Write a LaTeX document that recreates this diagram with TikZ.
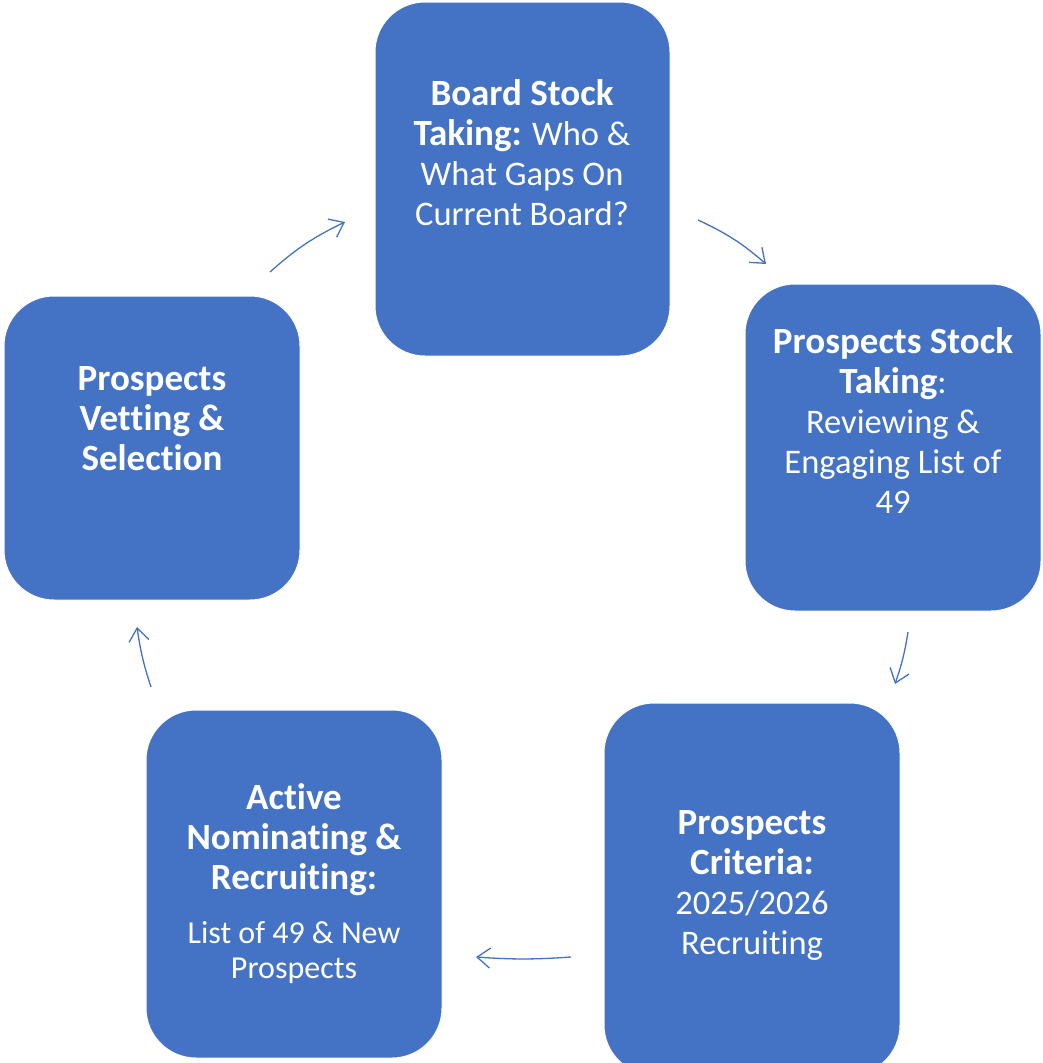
\documentclass[tikz,border=0pt]{standalone}
\usepackage{fontspec}
\setmainfont{Carlito}[Ligatures={NoCommon,NoRare,NoContextual}]
\usetikzlibrary{arrows.meta}
\definecolor{boxblue}{HTML}{4472C4}
\newcommand{\bt}[1]{{\fontsize{37}{40}\selectfont\bfseries #1}}
\newcommand{\tk}{t\kern0pt }
\tikzset{
  box/.style={draw=white, line width=1pt, fill=boxblue, rounded corners=50pt, inner sep=0pt},
  btext/.style={text=white, align=center, font=\fontsize{34.5}{40}\selectfont, inner sep=0pt},
  stext/.style={text=white, align=center, font=\fontsize{32}{35}\selectfont, inner sep=0pt},
  conn/.style={draw=boxblue, line width=1.3pt, -{Straight Barb[length=13pt,width=20pt,line width=1.3pt]}}
}
\begin{document}
\begin{tikzpicture}[x=1pt,y=-1pt]
\useasboundingbox (0,0) rectangle (1043,1063);
% boxes
\path[box] (375,2) rectangle (670,356) node[midway] (b1) {};
\path[box] (745,284) rectangle (1041,611) node[midway] (b2) {};
\path[box] (604,703) rectangle (900,1075) node[midway] (b3) {};
\path[box] (146,710) rectangle (442,1058) node[midway] (b4) {};
\path[box] (4,296) rectangle (300,600) node[midway] (b5) {};
% texts
\node[btext] (t1) at (522,153) {\bt{Board Stock}\\\bt{Taking:} Who \&\\What Gaps On\\Current Board?};
\node[btext] (t2) at (893,421) {\bt{Prospects Stock}\\\bt{Taking}:\\Reviewing \&\\Engaging List of\\49};
\node[btext] (t3) at (752,885) {\bt{Prospects}\\\bt{Criteria:}\\2025/2026\\Recrui\tk ing};
\node[btext] (t4a) at (294,840) {\bt{Ac\tk ive}\\\bt{Nomina\tk ing \&}\\\bt{Recrui\tk ing:}};
\node[stext] (t4b) at (294,953) {List of 49 \& New\\Prospects};
\node[btext] (t5) at (152,419) {\bt{Prospects}\\\bt{Ve\tk\tk ing \&}\\\bt{Selec\tk ion}};
% connector ends
\coordinate (a1s) at (270,272); \coordinate (a1e) at (345,222);
\coordinate (a2s) at (698,220); \coordinate (a2e) at (766,264);
\coordinate (a3s) at (908,632); \coordinate (a3e) at (895,684);
\coordinate (a4s) at (571,957); \coordinate (a4e) at (476,957);
\coordinate (a5s) at (151,687); \coordinate (a5e) at (137,627);
\draw[conn] (a1s) to[bend left=8] (a1e);
\draw[conn] (a2s) to[bend left=8] (a2e);
\draw[conn] (a3s) to[bend left=5] (a3e);
\draw[conn] (a4s) to[bend left=4] (a4e);
\draw[conn] (a5s) to[bend left=5] (a5e);
\end{tikzpicture}
\end{document}
